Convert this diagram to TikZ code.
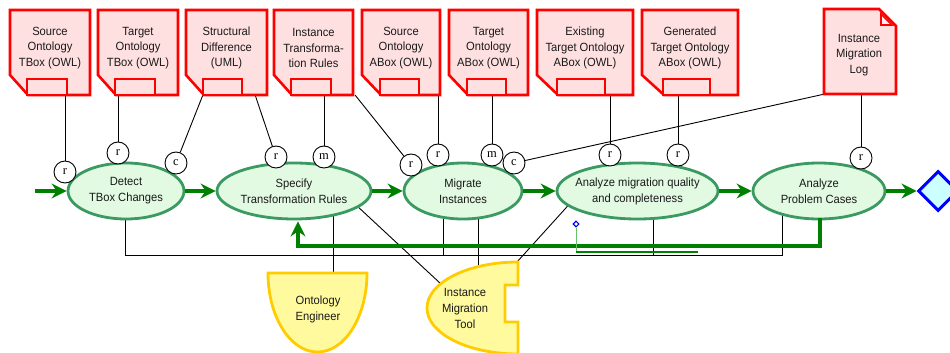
\documentclass[tikz,border=0pt]{standalone}
\usepackage{fontspec}
\setmainfont{Liberation Sans}[FakeStretch=0.94]
\newfontfamily\circfont{Liberation Serif}
\usetikzlibrary{shapes.geometric,arrows.meta,backgrounds,calc}

\definecolor{docred}{HTML}{FF0000}
\definecolor{docfill}{HTML}{FFE0E0}
\definecolor{ellfill}{HTML}{E2F9E2}
\definecolor{elldraw}{HTML}{3A9A62}
\definecolor{flowgreen}{HTML}{008000}
\definecolor{yelfill}{HTML}{FFFA9E}
\definecolor{yeldraw}{HTML}{FFCC00}
\definecolor{diafill}{HTML}{CCFFFF}
\definecolor{txt}{HTML}{1A1A1A}

\tikzset{
  docline/.style={draw=docred, fill=docfill, line width=2.6pt, line join=miter},
  docanchor/.style={rectangle, minimum height=85, inner sep=0},
  doctext/.style={align=center, font=\fontsize{11.9}{15.5}\selectfont, text=txt, inner sep=0},
  func/.style={ellipse, draw=elldraw, fill=ellfill, line width=2.8pt, inner sep=0, minimum height=56},
  functext/.style={align=center, font=\fontsize{11.9}{16}\selectfont, text=txt, inner sep=0},
  flow/.style={draw=flowgreen, line width=4.2pt, line join=miter,
    -{Stealth[length=15pt,width=15pt,inset=5pt]}},
  conn/.style={draw=black, line width=0.9pt},
  rolec/.style={circle, draw=black, fill=white, line width=0.9pt, minimum size=22, inner sep=0,
    font=\circfont\fontsize{12.5}{12.5}\selectfont},
  actor/.style={draw=yeldraw, fill=yelfill, line width=2.8pt, line join=miter},
  endev/.style={diamond, draw=blue, fill=diafill, line width=3pt, minimum width=40, minimum height=40, inner sep=0},
}

\newcommand\docshape[5]{%
  \path[docline] (#2,10) -- (#3,10) -- (#3,95) -- (#4+1,95) -- (#2,75) -- cycle;
  \path[docline] (#4,79) rectangle (#5,95);
  \node[docanchor, minimum width={#3-#2}] (#1) at ({(#2+#3)/2},52.5) {};
}

\begin{document}
\begin{tikzpicture}[x=1pt,y=-1pt]
\useasboundingbox (0,0) rectangle (950,353);
\clip (0,0) rectangle (950,353);

% documents
\docshape{d1}{10}{90}{27}{67}
\docshape{d2}{98}{178}{115}{155}
\docshape{d3}{186}{267}{203}{242}
\docshape{d4}{274}{353}{291}{331}
\docshape{d5}{362}{440}{380}{419}
\docshape{d6}{449}{528}{467}{506}
\docshape{d7}{537}{633}{557}{605}
\docshape{d8}{642}{738}{663}{710}
\node[doctext] (d1t) at (50,48) {Source\\Ontology\\TBox (OWL)};
\node[doctext] (d2t) at (138,48) {Target\\Ontology\\TBox (OWL)};
\node[doctext] (d3t) at (226.5,48) {Structural\\Difference\\(UML)};
\node[doctext] (d4t) at (313.5,48) {Instance\\Transforma-\\tion Rules};
\node[doctext] (d5t) at (401,48) {Source\\Ontology\\ABox (OWL)};
\node[doctext] (d6t) at (488.5,48) {Target\\Ontology\\ABox (OWL)};
\node[doctext] (d7t) at (585,48) {Existing\\Target Ontology\\ABox (OWL)};
\node[doctext] (d8t) at (690,48) {Generated\\Target Ontology\\ABox (OWL)};

% log document with folded corner
\path[docline] (824,9) -- (879,9) -- (896,26) -- (896,94) -- (824,94) -- cycle;
\path[draw=docred, fill=white!60!docfill, line width=1.6pt, line join=miter] (881,14) -- (881,25) -- (892,25) -- cycle;
\node[rectangle, minimum width=72, minimum height=85, inner sep=0] (log) at (860,51.5) {};
\node[doctext] (logt) at (859,55) {Instance\\Migration\\Log};

% functions
\node[func, minimum width=116] (det) at (126,191) {};
\node[func, minimum width=154] (spec) at (294,191) {};
\node[func, minimum width=118] (mig) at (463,191) {};
\node[func, minimum width=161] (anq) at (637.5,191) {};
\node[func, minimum width=132] (apc) at (819,191) {};
\node[functext] (dett) at (det) {Detect\\TBox Changes};
\node[functext] (spect) at (spec) {Specify\\Transformation Rules};
\node[functext] (migt) at (mig) {Migrate\\Instances};
\node[functext] (anqt) at (anq) {Analyze migration quality\\and completeness};
\node[functext] (apct) at (apc) {Analyze\\Problem Cases};
\node[endev] (dia) at (938,191) {};

% actors
\path[actor] (268,273) -- (367,273) arc[start angle=0, end angle=180, x radius=49.5, y radius=79] -- cycle;
\node[functext] (oe) at (318,309.5) {Ontology\\Engineer};
\path[actor] (518,262) -- (518,285) -- (505,285) -- (505,322) -- (518,322) -- (518,354)
  arc[start angle=90, end angle=270, x radius=91, y radius=46] -- cycle;
\node[functext] (imt) at (465,308) {Instance\\Migration\\Tool};

% role circles
\node[rolec] (r1) at (65,172) {r};
\node[rolec] (r2) at (118,153) {r};
\node[rolec] (c1) at (176,163) {c};
\node[rolec] (r3) at (276,157) {r};
\node[rolec] (m1) at (324,157) {m};
\node[rolec] (r4) at (411,165) {r};
\node[rolec] (r5) at (438,155) {r};
\node[rolec] (m2) at (492,155) {m};
\node[rolec] (c2) at (514,163) {c};
\node[rolec] (r6) at (610,155) {r};
\node[rolec] (r7) at (678,155) {r};
\node[rolec] (r8) at (861,158) {r};

% selection marker
\node[diamond, draw=blue, fill=white, line width=1.1pt, minimum width=6, minimum height=6, inner sep=0] (sel) at (576,224) {};

\begin{scope}[on background layer]
  % role connectors
  \draw[conn] (r1) -- (r1 |- d1.south);
  \draw[conn] (r2) -- (r2 |- d2.south);
  \draw[conn] (c1) -- ($(d3.south west)+(17,0)$);
  \draw[conn] (r3) -- ($(d3.south east)+(-12,0)$);
  \draw[conn] (m1) -- (m1 |- d4.south);
  \draw[conn] (r4) -- ($(d4.south east)+(2,0)$);
  \draw[conn] (r5) -- (r5 |- d5.south);
  \draw[conn] (m2) -- (m2 |- d6.south);
  \draw[conn] (c2) -- (log.south west);
  \draw[conn] (r6) -- (r6 |- d7.south);
  \draw[conn] (r7) -- (r7 |- d8.south);
  \draw[conn] (r8) -- (r8 |- log.south);
  % organisational connectors
  \coordinate (busL) at (125,255);
  \coordinate (busR) at (782,255);
  \draw[conn] (det.center -| busL) -- (busL) -- (busR) -- (busR |- apc.center);
  \draw[conn] ($(mig.center)+(-20,0)$) -- ($(mig.center)+(-20,64)$);
  \draw[conn] ($(anq.center)+(15.5,0)$) -- ($(anq.center)+(15.5,64)$);
  \draw[conn] ($(spec.center)+(39,0)$) -- ($(oe.center)+(15,-30)$);
  \draw[conn] ($(mig.center)+(15,0)$) -- ($(mig.center)+(15,88)$);
  \draw[conn] ($(spec.center)+(62,14)$) -- ($(imt.center)+(-24,-24)$);
  \draw[conn] ($(anq.center)+(-68,13)$) -- ($(imt.center)+(52,-46)$);
\end{scope}

% control flow
\coordinate (start) at (35,191);
\draw[flow] (start) -- (det);
\draw[flow] (det) -- (spec);
\draw[flow] (spec) -- (mig);
\draw[flow] (mig) -- (anq);
\draw[flow] (anq) -- (apc);
\draw[flow] (apc) -- (dia);
\coordinate (fbL) at (298,246);
\draw[flow] ($(apc.south)+(1,-2)$) |- (fbL) -- ($(fbL |- spec.south)+(0,1)$);

% selected connector remnant
\draw[draw=green!60!black!60, line width=0.8pt] (sel.south) -- (576,252);
\draw[draw=flowgreen, line width=1.1pt] (576,252) -- (698,252);
\end{tikzpicture}
\end{document}
